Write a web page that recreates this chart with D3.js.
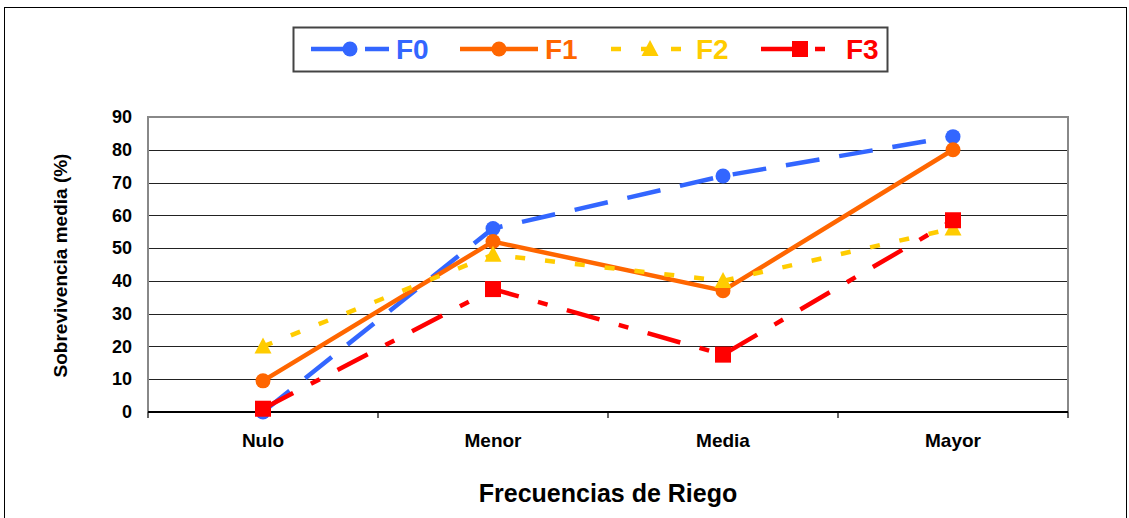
<!DOCTYPE html>
<html>
<head>
<meta charset="utf-8">
<script src="https://cdn.jsdelivr.net/npm/d3@7"></script>
<style>
  html, body { margin: 0; padding: 0; background: #fff; }
  svg { display: block; font-family: Arial, "Liberation Sans", sans-serif; }
</style>
</head>
<body>
<svg id="chart" width="1129" height="518"></svg>
<script>
// Riego frequencies and mean survival (%) per treatment
const categories = ["Nulo", "Menor", "Media", "Mayor"];
const seriesNames = ["F0", "F1", "F2", "F3"];
const f0 = [0, 56, 72, 84];
const f1 = [9.5, 52, 37, 80];
const f2 = [20, 48, 40, 56];
const f3 = [1, 37.5, 17.5, 58.5];
const yTicks = [0, 10, 20, 30, 40, 50, 60, 70, 80, 90];

const seriesValues = [f0, f1, f2, f3];
const styles = {
  F0: { color: "#3366FF", dash: "34,20", marker: "circle" },
  F1: { color: "#FF6600", dash: null, marker: "circle" },
  F2: { color: "#FFCC00", dash: "10,20", marker: "triangle" },
  F3: { color: "#FF0000", dash: "34,20,10,20", marker: "square" }
};
const FONT = "Arial, 'Liberation Sans', sans-serif";

const svg = d3.select("#chart");

// outer frame
svg.append("rect")
  .attr("x", 4.5).attr("y", 7.5).attr("width", 1122).attr("height", 530)
  .attr("fill", "#fff").attr("stroke", "#000").attr("stroke-width", 1);

const plot = { left: 148, right: 1068, top: 117, bottom: 412 };

const x = d3.scaleBand().domain(categories).range([plot.left, plot.right]);
const y = d3.scaleLinear().domain([0, 90]).range([plot.bottom, plot.top]);
const cx = c => x(c) + x.bandwidth() / 2;

// gridlines
svg.append("g").selectAll("line")
  .data(yTicks.filter(t => t > 0 && t < 90))
  .join("line")
  .attr("x1", plot.left).attr("x2", plot.right)
  .attr("y1", d => Math.round(y(d)) + 0.5).attr("y2", d => Math.round(y(d)) + 0.5)
  .attr("stroke", "#222").attr("stroke-width", 1.2);

// plot frame (top, right, left in gray)
svg.append("path")
  .attr("d", `M${plot.left},${plot.bottom} V${plot.top} H${plot.right} V${plot.bottom}`)
  .attr("fill", "none").attr("stroke", "#888").attr("stroke-width", 2);

// y axis labels
const yAxis = d3.axisLeft(y).tickValues(yTicks).tickSize(0).tickPadding(16);
svg.append("g")
  .attr("transform", `translate(${plot.left},0)`)
  .call(yAxis)
  .call(g => g.select(".domain").remove())
  .call(g => g.selectAll("text")
    .attr("font-size", 18).attr("font-weight", "bold").attr("fill", "#000")
    .attr("font-family", FONT));

// x axis
const xAxis = d3.axisBottom(x).tickSize(0).tickPadding(22);
svg.append("g")
  .attr("transform", `translate(0,${plot.bottom})`)
  .call(xAxis)
  .call(g => g.select(".domain").remove())
  .call(g => g.selectAll("text")
    .attr("font-size", 19).attr("font-weight", "bold").attr("fill", "#000")
    .attr("font-family", FONT));

svg.append("line")
  .attr("x1", plot.left).attr("x2", plot.right)
  .attr("y1", plot.bottom).attr("y2", plot.bottom)
  .attr("stroke", "#000").attr("stroke-width", 2);

// tick marks at band boundaries
const bounds = categories.map(c => x(c)).concat([x(categories[categories.length - 1]) + x.bandwidth()]);
svg.append("g").selectAll("line")
  .data(bounds)
  .join("line")
  .attr("x1", d => d).attr("x2", d => d)
  .attr("y1", plot.bottom).attr("y2", plot.bottom + 6)
  .attr("stroke", "#000").attr("stroke-width", 1.2);

// axis titles
svg.append("text")
  .attr("transform", `translate(67,${(plot.top + plot.bottom) / 2 + 1}) rotate(-90)`)
  .attr("text-anchor", "middle")
  .attr("font-size", 19).attr("font-weight", "bold")
  .text("Sobrevivencia media (%)");

svg.append("text")
  .attr("x", (plot.left + plot.right) / 2).attr("y", 502)
  .attr("text-anchor", "middle")
  .attr("font-size", 25).attr("font-weight", "bold")
  .text("Frecuencias de Riego");

function drawMarker(g, type, px, py, color) {
  if (type === "circle") {
    g.append("circle").attr("cx", px).attr("cy", py).attr("r", 7.5).attr("fill", color);
  } else if (type === "square") {
    g.append("rect").attr("x", px - 8).attr("y", py - 8).attr("width", 16).attr("height", 16).attr("fill", color);
  } else {
    g.append("path")
      .attr("d", `M${px},${py - 9} L${px + 8.5},${py + 7} L${px - 8.5},${py + 7} Z`)
      .attr("fill", color);
  }
}

// series
const line = d3.line().x((d, i) => cx(categories[i])).y(d => y(d));
seriesNames.forEach((name, si) => {
  const st = styles[name];
  const vals = seriesValues[si];
  const g = svg.append("g");
  g.append("path")
    .datum(vals)
    .attr("d", line)
    .attr("fill", "none")
    .attr("stroke", st.color)
    .attr("stroke-width", 4.5)
    .attr("stroke-dasharray", st.dash);
  vals.forEach((v, i) => drawMarker(g, st.marker, cx(categories[i]), y(v), st.color));
});

// legend
const legend = svg.append("g");
legend.append("rect")
  .attr("x", 293.5).attr("y", 27.5).attr("width", 594).attr("height", 44)
  .attr("fill", "#fff").attr("stroke", "#444").attr("stroke-width", 2);
const legendX = [311, 460, 611, 761];
seriesNames.forEach((name, i) => {
  const st = styles[name];
  const lx = legendX[i], ly = 49;
  legend.append("line")
    .attr("x1", lx).attr("x2", lx + 78).attr("y1", ly).attr("y2", ly)
    .attr("stroke", st.color).attr("stroke-width", 4.5)
    .attr("stroke-dasharray", st.dash);
  drawMarker(legend, st.marker, lx + 39, ly, st.color);
  legend.append("text")
    .attr("x", lx + 85).attr("y", ly + 10)
    .attr("font-size", 28).attr("font-weight", "bold")
    .attr("fill", st.color)
    .text(name);
});
</script>
</body>
</html>
